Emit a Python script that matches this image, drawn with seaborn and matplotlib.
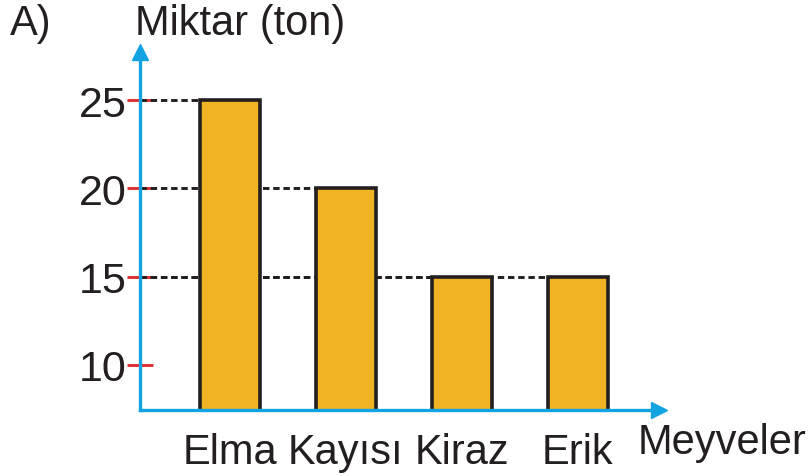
import matplotlib
matplotlib.use("Agg")
import matplotlib.pyplot as plt
import seaborn as sns
import pandas as pd

categories = ["Elma", "Kayısı", "Kiraz", "Erik"]
values = [25, 20, 15, 15]
y_ticks = [10, 15, 20, 25]
x_label = "Meyveler"
y_label = "Miktar (ton)"
panel_label = "A)"

sns.set_theme(style="white")
plt.rcParams["font.family"] = ["Liberation Sans", "DejaVu Sans"]

W, H = 810, 477
fig = plt.figure(figsize=(W / 100, H / 100), dpi=100)
# axes box in pixel coordinates
x0, x1 = 140, 659
ytop, ybot = 53, 411
ax = fig.add_axes([x0 / W, 1 - ybot / H, (x1 - x0) / W, (ybot - ytop) / H])

df = pd.DataFrame({"Meyve": categories, "Miktar": values})
bar_color = "#f0b323"
sns.barplot(data=df, x="Meyve", y="Miktar", order=categories, color=bar_color,
            width=0.52, edgecolor="#231f20", linewidth=2.6, saturation=1, ax=ax, zorder=3)

ax.set_xlim(-0.776, 3.70)
ax.set_ylim(7.45, 27.72)

# dashed guide lines from axis to left edge of each bar
for i, v in enumerate(values):
    ax.hlines(v, -0.776, i - 0.26, colors="#231f20", linestyles=(0, (2.2, 1.3)),
              linewidth=2.1, zorder=2)

blue = "#12a3e3"
for s in ["top", "right"]:
    ax.spines[s].set_visible(False)
for s in ["left", "bottom"]:
    ax.spines[s].set_color(blue)
    ax.spines[s].set_linewidth(2.4)
    ax.spines[s].set_zorder(4)
ax.plot([0], [1], marker="^", color=blue, markersize=12, transform=ax.transAxes,
        clip_on=False, zorder=5)
ax.plot([1], [0], marker=">", color=blue, markersize=12, transform=ax.transAxes,
        clip_on=False, zorder=5)

ax.set_yticks(y_ticks)
ax.set_yticklabels([str(t) for t in y_ticks])
ax.tick_params(axis="y", direction="inout", length=19, width=2.1, color="#e03030",
               labelsize=31, labelcolor="#231f20", pad=0, left=True)
ax.tick_params(axis="x", length=0, labelsize=30, labelcolor="#231f20", pad=16)
ax.set_xlabel("")
ax.set_ylabel("")
ax.grid(False)

fig.text(638 / W, 1 - 443 / H, x_label, fontsize=30, color="#231f20",
         ha="left", va="center")
fig.text(135 / W, 1 - 24 / H, y_label, fontsize=30, color="#231f20",
         ha="left", va="center")
fig.text(10 / W, 1 - 24 / H, panel_label, fontsize=30, color="#231f20",
         ha="left", va="center")

fig.savefig("out.png", dpi=100, facecolor="white")
